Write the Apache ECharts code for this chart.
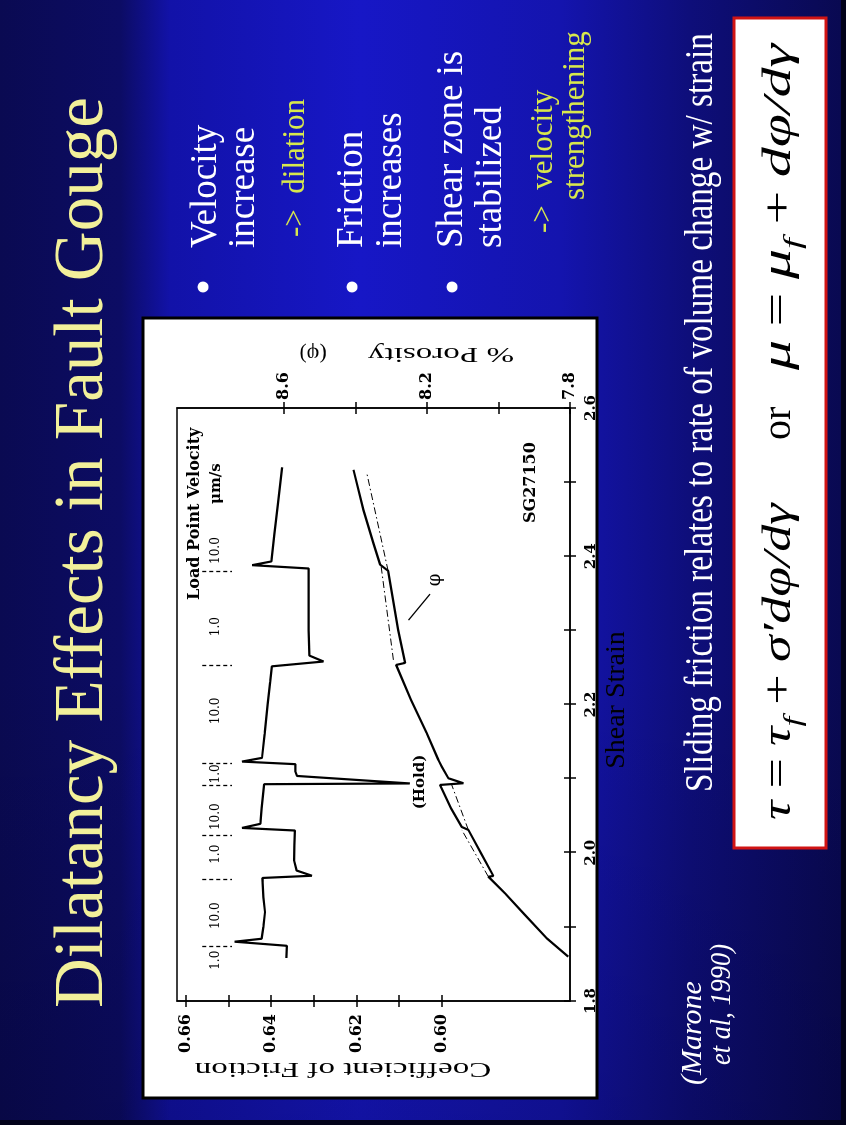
<!DOCTYPE html>
<html><head><meta charset="utf-8">
<script src="https://cdn.jsdelivr.net/npm/echarts@6/dist/echarts.min.js"></script>
<style>
html,body{margin:0;padding:0;width:846px;height:1125px;overflow:hidden;background:#050530;}
#slide{position:absolute;left:0;top:0;width:1125px;height:846px;transform-origin:0 0;
transform:translate(0,1125px) rotate(-90deg);
background:
 linear-gradient(to right, rgba(0,0,25,0.22) 0%, rgba(0,0,25,0) 40%),
 linear-gradient(to bottom, #0a0a52 0px, #0c0c64 120px, #1212a8 170px, #1717c6 360px, #1414ae 560px, #0e0e7a 690px, #090950 846px);}
#chart{position:absolute;left:0;top:0;width:1125px;height:846px;}
</style></head><body><div id="slide"><div id="chart"></div></div>
<script>
// ---- data ----
const frictionStrain = [1.858,1.8745,1.8800,1.8840,1.900,1.920,1.940,1.966,1.9690,1.9760,1.990,2.010,2.030,2.0335,2.0390,2.060,2.0925,2.0935,2.1036,2.1100,2.1195,2.1230,2.1280,2.160,2.200,2.230,2.2515,2.2580,2.2660,2.300,2.340,2.3835,2.3880,2.3930,2.430,2.470,2.5200];
const frictionValue = [0.6364,0.6363,0.6485,0.6422,0.6418,0.6414,0.6418,0.6420,0.6304,0.6340,0.6346,0.6345,0.6344,0.6468,0.6425,0.6422,0.6416,0.6075,0.6339,0.6343,0.6343,0.6468,0.6421,0.6415,0.6408,0.6402,0.6398,0.6277,0.6310,0.6312,0.6312,0.6312,0.6444,0.6399,0.6392,0.6384,0.6374];
const porosityStrain = [1.8598,1.8846,1.9184,1.9453,1.9677,1.9687,2.0000,2.0308,2.0348,2.0600,2.0915,2.0938,2.1005,2.1162,2.1252,2.1613,2.2062,2.2534,2.2561,2.3007,2.3803,2.3887,2.4177,2.4626,2.5166];
const porosityValue = [7.8048,7.8652,7.9306,7.9818,8.0285,8.0145,8.0500,8.0845,8.1029,8.1330,8.1636,8.0985,8.1404,8.1589,8.1684,8.2008,8.2448,8.2867,8.2615,8.2811,8.3091,8.3315,8.3503,8.3782,8.4061];
const trendA = [[1.9677,8.0285],[2.0308,8.1029]];
const trendB = [[2.0308,8.0845],[2.0915,8.1310]];
const trendC = [[2.2602,8.2943],[2.3867,8.3287]];
const trendD = [[2.3803,8.3091],[2.5121,8.3687]];
const velocityLabels = ['1.0','10.0','1.0','10.0','1.0','10.0','1.0','10.0'];
const velocityLabelStrain = [1.855,1.915,1.998,2.0487,2.1063,2.1914,2.3051,2.4077];
const velocityStepStrain = [1.873,1.964,2.0227,2.0906,2.1198,2.2521,2.3794];
const frictionTicks = [0.60,0.61,0.62,0.63,0.64,0.65,0.66];
const frictionTickLabels = [0.60,0.62,0.64,0.66];
const porosityTicks = [7.8,8.0,8.2,8.4,8.6];
const porosityTickLabels = [7.8,8.2,8.6];
const phiArrow = [[2.3489,8.1916],[2.3138,8.2523]];
const phiLabelAt = [2.368,8.1776];
const holdLabelAt = [2.0954,0.6051];

const zip = (a,b)=>a.map((v,i)=>[v,b[i]]);
const chart = echarts.init(document.getElementById('chart'), null, {width:1125, height:846, renderer:'canvas'});
const serif = '"Liberation Serif", "Times New Roman", serif';
const fig = '"DejaVu Serif", serif';
const black = '#000';
const axisLineS = {show:true, onZero:false, lineStyle:{color:black, width:1.5}};
const tickOut = {show:true, length:6, lineStyle:{color:black, width:1.5}};
const tickIn = {show:true, inside:true, length:6, lineStyle:{color:black, width:1.5}};
const lblFont = {fontFamily:fig, fontWeight:'bold', fontSize:16, color:black};

function T(x,y,text,font,fill,extra){
  return Object.assign({type:'text', x:x, y:y, silent:true, z:50,
    style:Object.assign({text:text, font:font, fill:fill, align:'left', verticalAlign:'middle'}, (extra&&extra.style)||{})},
    extra?{rotation:extra.rotation||0, scaleX:extra.scaleX||1}:{});
}

const trendStyle = {color:black, width:1, type:[7,3,1.5,3]};
function trendSeries(d){ return {type:'line', xAxisIndex:0, yAxisIndex:2, data:d, symbol:'none', lineStyle:trendStyle, silent:true, z:3}; }

const option = {
  animation:false,
  backgroundColor:'transparent',
  grid:{left:124, top:177, width:593, height:393, show:true, borderColor:black, borderWidth:1.5, backgroundColor:'transparent'},
  xAxis:[
    {type:'value', min:1.8, max:2.6, interval:0.1, position:'bottom', axisLine:axisLineS, axisTick:tickOut, splitLine:{show:false},
     axisLabel:{margin:14, fontSize:15, fontFamily:fig, fontWeight:'bold', color:black, formatter:v=>(Math.round(v*10)%2===0? v.toFixed(1):'')}},
    {type:'value', min:1.8, max:2.6, interval:0.1, position:'bottom', axisLine:{show:false}, axisTick:tickIn, axisLabel:{show:false}, splitLine:{show:false}}
  ],
  yAxis:[
    {type:'value', min:0.57, max:0.662, position:'left', axisLine:axisLineS, splitLine:{show:false},
     axisTick:Object.assign({customValues:frictionTicks}, tickOut),
     axisLabel:Object.assign({customValues:frictionTickLabels, margin:13, formatter:v=>v.toFixed(2)}, lblFont)},
    {type:'value', min:0.57, max:0.662, position:'left', axisLine:{show:false}, splitLine:{show:false},
     axisTick:Object.assign({customValues:frictionTicks}, tickIn), axisLabel:{show:false}},
    {type:'value', min:7.8, max:8.9, position:'right', axisLine:axisLineS, splitLine:{show:false},
     axisTick:Object.assign({customValues:porosityTicks}, tickOut),
     axisLabel:Object.assign({customValues:porosityTickLabels, margin:8, formatter:v=>v.toFixed(1)}, lblFont)},
    {type:'value', min:7.8, max:8.9, position:'right', axisLine:{show:false}, splitLine:{show:false},
     axisTick:Object.assign({customValues:porosityTicks}, tickIn), axisLabel:{show:false}}
  ],
  series:[
    {type:'line', name:'friction', xAxisIndex:0, yAxisIndex:0, data:zip(frictionStrain, frictionValue), symbol:'none',
     lineStyle:{color:black, width:2.2}, z:4, silent:true,
     markLine:{silent:true, symbol:['none','none'], label:{show:false}, lineStyle:{color:black, width:1.3, type:[4,3]},
       data:velocityStepStrain.map(s=>[{coord:[s,0.6561]},{coord:[s,0.6491]}])}},
    {type:'line', name:'porosity', xAxisIndex:0, yAxisIndex:2, data:zip(porosityStrain, porosityValue), symbol:'none',
     lineStyle:{color:black, width:2.2}, z:4, silent:true,
     markLine:{silent:true, symbol:['none','arrow'], symbolSize:[0,9], label:{show:false}, lineStyle:{color:black, width:1.3, type:'solid'},
       data:[[{coord:phiArrow[0]},{coord:phiArrow[1]}]]}},
    trendSeries(trendA), trendSeries(trendB), trendSeries(trendC), trendSeries(trendD)
  ]
};
chart.setOption(option);

// ---- text layer (slide text + figure annotations) ----
const yellow = '#f2f09a';
const sub = '#d8e84c';
const g = [];
g.push({type:'rect', z:-5, silent:true, shape:{x:27, y:143, width:780, height:454}, style:{fill:'#fff', stroke:'#000', lineWidth:3}});
g.push({type:'rect', z:-5, silent:true, shape:{x:277, y:734, width:830, height:92}, style:{fill:'#fff', stroke:'#d01414', lineWidth:3}});
g.push({type:'rect', z:-6, silent:true, shape:{x:0, y:0, width:5, height:846}, style:{fill:'#02021a'}});
g.push({type:'rect', z:-6, silent:true, shape:{x:0, y:841, width:1125, height:5}, style:{fill:'#02021a'}});
// title
g.push(T(117, 84, 'Dilatancy Effects in Fault Gouge', '69px '+serif, yellow));
// bullets
[203,352,452].forEach(y=>g.push({type:'circle', z:50, silent:true, shape:{cx:838, cy:y, r:5.5}, style:{fill:'#fff'}}));
const bf = '37px '+serif, sf = '31px '+serif;
g.push(T(877,206,'Velocity',bf,'#fff'));
g.push(T(877,244,'increase',bf,'#fff'));
g.push(T(888,296,'->  dilation',sf,sub));
g.push(T(877,352,'Friction',bf,'#fff'));
g.push(T(877,391,'increases',bf,'#fff'));
g.push(T(877,452,'Shear zone is',bf,'#fff'));
g.push(T(877,491,'stabilized',bf,'#fff'));
g.push(T(892,544,'->  velocity',sf,sub));
g.push(T(925,576,'strengthening',sf,sub));
// bottom text
g.push(T(333,701,'Sliding friction relates to rate of volume change w/ strain','40px '+serif,'#fff',{scaleX:0.83}));
g.push(T(40,693,'(Marone','italic 30px '+serif,'#fff'));
g.push(T(60,722,'et al, 1990)','italic 30px '+serif,'#fff',{scaleX:0.88}));
// formula
const richF = {m:{font:'italic 40px '+serif, fill:'#000', lineHeight:48, verticalAlign:'top'},
               u:{font:'40px '+serif, fill:'#000', lineHeight:48, verticalAlign:'top', padding:[0,9,0,9]},
               s:{font:'italic 26px '+serif, fill:'#000', lineHeight:26, verticalAlign:'bottom'}};
g.push({type:'text', x:305, y:783, z:50, scaleX:1.35, silent:true, style:{text:'{m|τ}{u|=}{m|τ}{s|f}{u|+}{m|σ′dφ/dγ}', rich:richF, align:'left', verticalAlign:'middle'}});
g.push({type:'text', x:685, y:783, z:50, silent:true, style:{text:'{u|or}', rich:{u:{font:'40px '+serif, fill:'#000', lineHeight:48, verticalAlign:'top'}}, align:'left', verticalAlign:'middle'}});
g.push({type:'text', x:755, y:783, z:50, scaleX:1.5, silent:true, style:{text:'{m|μ}{u|=}{m|μ}{s|f}{u|+}{m|dφ/dγ}', rich:richF, align:'left', verticalAlign:'middle'}});
// axis names
g.push(T(56,343,'Coefficient of Friction','22px '+serif,black,{rotation:Math.PI/2, scaleX:1.5, style:{align:'center'}}));
g.push(T(771,441,'% Porosity','22px '+serif,black,{rotation:Math.PI/2, scaleX:1.5, style:{align:'center'}}));
g.push(T(771,313,'(φ)','22px '+serif,black,{rotation:Math.PI/2, style:{align:'center'}}));
g.push(T(425,617,'Shear Strain','28px '+serif,black,{style:{align:'center'}}));
// figure annotations
g.push(T(525,195,'Load Point Velocity','bold 16px '+fig,black));
g.push(T(621,216,'μm/s','bold 15px '+fig,black));
g.push(T(602,531,'SG27150','bold 16px '+fig,black));
velocityLabels.forEach((t,i)=>{
  const p = chart.convertToPixel({xAxisIndex:0, yAxisIndex:0}, [velocityLabelStrain[i], 0.6528]);
  g.push(T(p[0], p[1], t, '12px '+fig, black, {style:{align:'center'}}));
});
{
  const p = chart.convertToPixel({xAxisIndex:0, yAxisIndex:0}, holdLabelAt);
  g.push(T(p[0], p[1], '(Hold)', 'bold 15px '+fig, black, {style:{align:'center'}}));
  const q = chart.convertToPixel({xAxisIndex:0, yAxisIndex:2}, phiLabelAt);
  g.push(T(q[0], q[1], 'φ', '18px '+fig, black, {style:{align:'center'}}));
}
chart.setOption({graphic:{elements:g}});
</script></body></html>
